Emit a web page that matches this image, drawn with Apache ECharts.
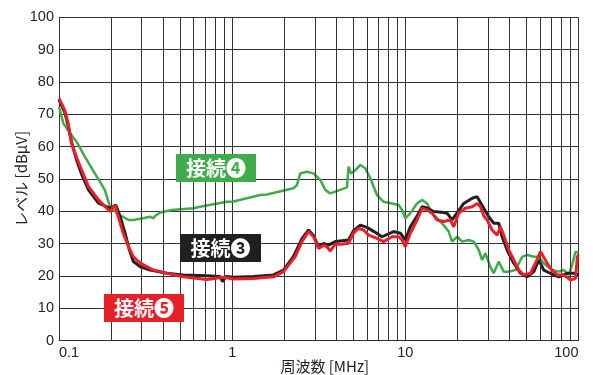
<!DOCTYPE html>
<html><head><meta charset="utf-8">
<script src="https://cdn.jsdelivr.net/npm/echarts@6/dist/echarts.min.js"></script>
<style>html,body{margin:0;padding:0;background:#fff}#c{width:593px;height:375px}</style>
</head><body><div id="c"></div>
<script>
// frequency [MHz], level [dBμV]
const greenFreq = [0.1,0.106,0.116,0.128,0.141,0.161,0.173,0.184,0.197,0.211,0.220,0.234,0.252,0.269,0.305,0.336,0.351,0.359,0.384,0.448,0.597,0.653,0.931,1.017,1.452,1.587,2.26,2.365,2.472,2.701,2.951,3.227,3.449,3.683,4.209,4.603,4.701,4.853,5.024,5.495,5.871,6.278,6.86,7.49,8.37,9.15,9.57,10.0,10.69,11.69,12.5,13.35,14.27,15.59,16.65,17.79,18.62,19.9,21.28,23.23,24.85,26.55,27.76,28.99,30.97,32.37,34.62,37.0,39.55,43.3,47.3,50.5,55.2,59.0,63.0,70.4,76.9,82.2,88.0,91.9,96.1,100];
const greenVal  = [72.3,67.2,64.1,61.0,56.9,51.7,49.0,46.5,41.4,39.9,38.8,38.3,37.3,37.3,37.8,38.3,37.8,38.5,39.6,40.4,40.9,41.4,42.9,43.0,45.0,45.2,47.1,48.1,51.7,52.2,51.7,49.7,46.6,45.5,46.6,47.4,53.8,51.7,52.2,54.3,53.3,50.2,45.0,42.9,42.4,41.9,40.4,37.8,39.4,42.4,43.5,42.4,39.4,37.3,35.7,33.7,30.6,32.1,30.6,31.1,30.6,28.0,24.9,27.0,22.8,20.8,24.4,21.3,21.3,21.8,25.9,26.5,25.9,25.9,23.9,21.8,21.3,21.8,20.3,23.4,27.5,27.0];

const blackFreq = [0.1,0.108,0.113,0.118,0.127,0.135,0.148,0.169,0.18,0.197,0.213,0.225,0.24,0.255,0.269,0.295,0.336,0.42,0.52,0.714,0.85,0.88,0.92,1.017,1.33,1.733,1.979,2.26,2.53,2.76,2.95,3.155,3.37,3.6,3.94,4.7,5.02,5.5,6.0,6.6,7.33,8.56,9.36,10.0,10.69,11.69,12.5,13.35,14.58,16.65,17.41,18.62,19.9,21.74,24.32,25.97,26.55,28.38,30.31,32.37,34.62,36.2,38.7,42.3,46.2,50.5,55.2,59.0,63.0,68.8,76.9,86.1,94.0,100];
const blackVal  = [74.5,70.5,66.5,61.5,55.5,51.5,46.6,42.5,41.9,40.9,41.9,38.5,33.5,28.0,24.4,22.8,21.8,20.8,20.3,20.0,19.8,18.2,19.8,19.6,19.8,20.3,21.8,26.0,31.5,34.2,32.5,29.0,30.0,29.5,30.6,31.1,34.0,35.7,35.0,33.7,32.1,33.7,33.2,31.1,35.2,38.5,41.4,41.0,39.9,39.6,39.4,37.3,39.5,42.4,44.0,44.5,44.0,40.9,38.3,36.3,36.3,32.1,28.0,23.9,20.8,19.7,21.3,24.9,21.8,20.8,19.7,20.8,20.8,20.3];

const redFreq = [0.1,0.108,0.113,0.118,0.127,0.135,0.148,0.169,0.173,0.197,0.211,0.220,0.235,0.252,0.269,0.287,0.307,0.351,0.384,0.419,0.523,0.714,0.891,1.017,1.327,1.733,1.979,2.31,2.53,2.76,2.95,3.155,3.37,3.53,3.68,3.94,4.3,4.7,5.02,5.37,5.74,6.14,6.86,7.49,8.37,9.15,9.57,10.0,10.69,11.69,12.5,13.35,14.27,15.25,16.65,18.2,19.02,20.33,22.23,24.32,25.97,27.15,28.4,29.65,31.7,33.9,35.4,37.0,39.55,42.3,45.2,48.3,52.8,56.4,60.3,64.4,68.8,75.3,82.2,89.9,96.1,98.5,100];
const redVal  = [74.9,71.3,67.2,61.0,56.4,52.8,47.6,43.5,42.9,39.9,41.9,38.3,33.2,29.0,25.9,24.4,23.4,21.8,21.3,20.8,19.7,18.9,19.6,19.0,19.2,19.7,21.3,25.9,30.6,33.7,32.1,28.5,29.5,29.0,27.7,29.8,29.8,30.1,33.2,34.7,34.2,32.6,31.6,30.6,32.1,32.1,31.1,29.0,33.2,37.3,40.9,40.4,39.4,37.3,36.8,37.3,35.2,39.4,40.9,41.4,42.4,41.4,38.5,37.3,34.2,32.6,35.2,32.6,28.0,24.9,21.8,20.3,20.8,23.9,27.5,24.9,22.3,20.3,20.3,18.7,19.2,25.9,26.5];

const minorGrid = [0.2,0.3,0.4,0.5,0.6,0.7,0.8,0.9,2,3,4,5,6,7,8,9,20,30,40,50,60,70,80,90];
const yTicks = [0,10,20,30,40,50,60,70,80,90,100];

const zip = (a,b) => a.map((f,i)=>[f,b[i]]);
const GRID = '#333';
const TXT = '#231f20';
const FONT = '"Liberation Sans", Arial, sans-serif';
const LFONT = 'bold 20px "Noto Sans CJK JP", sans-serif';

const chart = echarts.init(document.getElementById('c'));
chart.setOption({
  animation: false,
  backgroundColor: '#fff',
  grid: {left: 59, right: 14.5, top: 17.3, bottom: 34.5, containLabel: false, outerBoundsMode: 'none'},
  xAxis: {
    type: 'log', logBase: 10, min: 0.1, max: 100,
    axisLine: {show: true, lineStyle: {color: GRID, width: 1}},
    axisTick: {show: false},
    splitLine: {show: true, lineStyle: {color: GRID, width: 1}},
    axisLabel: {color: TXT, fontSize: 14.5, fontFamily: FONT, margin: 5,
      alignMinLabel: 'left', alignMaxLabel: 'right',
      formatter: v => String(+v.toPrecision(3))},
    name: '周波数 [MHz]', nameLocation: 'middle', nameGap: 18, nameMoveOverlap: false,
    nameTextStyle: {color: TXT, fontSize: 15, fontFamily: '"Noto Sans CJK JP", sans-serif', padding: [0,0,0,12]}
  },
  yAxis: {
    type: 'value', min: 0, max: 100, interval: 10,
    axisLine: {show: true, lineStyle: {color: GRID, width: 1}},
    axisTick: {show: false},
    splitLine: {show: true, lineStyle: {color: GRID, width: 1}},
    axisLabel: {color: TXT, fontSize: 14.5, fontFamily: FONT, margin: 5,
      formatter: v => yTicks.includes(v) ? String(v) : ''},
    name: 'レベル [dBμV]', nameLocation: 'middle', nameGap: 30, nameRotate: 90, nameMoveOverlap: false,
    nameTextStyle: {color: TXT, fontSize: 15, fontFamily: '"Noto Sans CJK JP", sans-serif'}
  },
  series: [
    {type: 'line', data: [], silent: true,
     markLine: {silent: true, symbol: 'none', label: {show: false},
       lineStyle: {color: GRID, width: 1, type: 'solid'},
       data: minorGrid.map(f => ({xAxis: f}))}},
    {name: '接続❹', type: 'line', data: zip(greenFreq, greenVal), showSymbol: false,
     lineStyle: {color: '#3fab4a', width: 2.5}, z: 3},
    {name: '接続❸', type: 'line', data: zip(blackFreq, blackVal), showSymbol: false,
     lineStyle: {color: '#231f20', width: 3}, z: 4},
    {name: '接続❺', type: 'line', data: zip(redFreq, redVal), showSymbol: false,
     lineStyle: {color: '#e8202a', width: 3}, z: 5}
  ],
  graphic: [
    {type: 'rect', left: 176, top: 154, shape: {width: 80, height: 28}, style: {fill: '#3fab4a'}, z: 10},
    {type: 'text', z: 11, style: {x: 216, y: 168.5, align: 'center', verticalAlign: 'middle', text: '接続❹', fill: '#fff', font: LFONT}},
    {type: 'rect', left: 180, top: 234, shape: {width: 81, height: 28}, style: {fill: '#231f20'}, z: 10},
    {type: 'text', z: 11, style: {x: 220.5, y: 248.5, align: 'center', verticalAlign: 'middle', text: '接続❸', fill: '#fff', font: LFONT}},
    {type: 'rect', left: 104, top: 294, shape: {width: 80, height: 28}, style: {fill: '#e8202a'}, z: 10},
    {type: 'text', z: 11, style: {x: 144, y: 308.5, align: 'center', verticalAlign: 'middle', text: '接続❺', fill: '#fff', font: LFONT}}
  ]
});
</script></body></html>
